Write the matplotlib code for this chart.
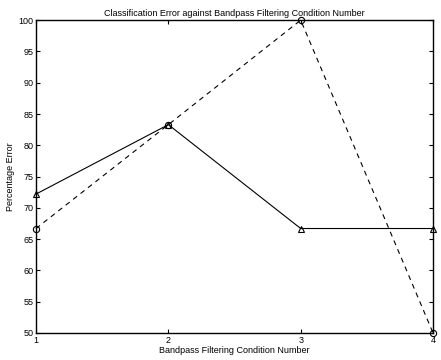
import matplotlib
matplotlib.use("Agg")
import matplotlib.pyplot as plt

conditions = [1, 2, 3, 4]
error_triangle = [72.2, 83.3, 66.7, 66.7]
error_circle = [66.7, 83.3, 100.0, 50.0]

plt.rcParams["font.family"] = ["Liberation Sans", "DejaVu Sans"]
plt.rcParams["font.size"] = 6.5

fig = plt.figure(figsize=(4.41, 3.6), dpi=100)
ax = fig.add_axes([0.0816, 0.075, 0.9004, 0.869])

ax.plot(conditions, error_triangle, color="black", linestyle="-", linewidth=0.8,
        marker="^", markersize=4.5, markerfacecolor="none", markeredgewidth=0.8, clip_on=False)
ax.plot(conditions, error_circle, color="black", linestyle=(0, (4.5, 4)), linewidth=0.8,
        marker="o", markersize=4.5, markerfacecolor="none", markeredgewidth=0.8, clip_on=False)

ax.set_xlim(1, 4)
ax.set_ylim(50, 100)
ax.set_xticks(conditions)
ax.set_yticks(range(50, 101, 5))
ax.tick_params(direction="in", top=True, right=True, length=3, width=0.8, labelsize=6.5, pad=2)
for spine in ax.spines.values():
    spine.set_linewidth(1.0)

ax.set_title("Classification Error against Bandpass Filtering Condition Number", fontsize=6.5, pad=3)
ax.set_xlabel("Bandpass Filtering Condition Number", fontsize=6.5, labelpad=1)
ax.set_ylabel("Percentage Error", fontsize=6.5)
ax.yaxis.set_label_coords(-0.052, 0.5)

fig.savefig("out.png", dpi=100)
